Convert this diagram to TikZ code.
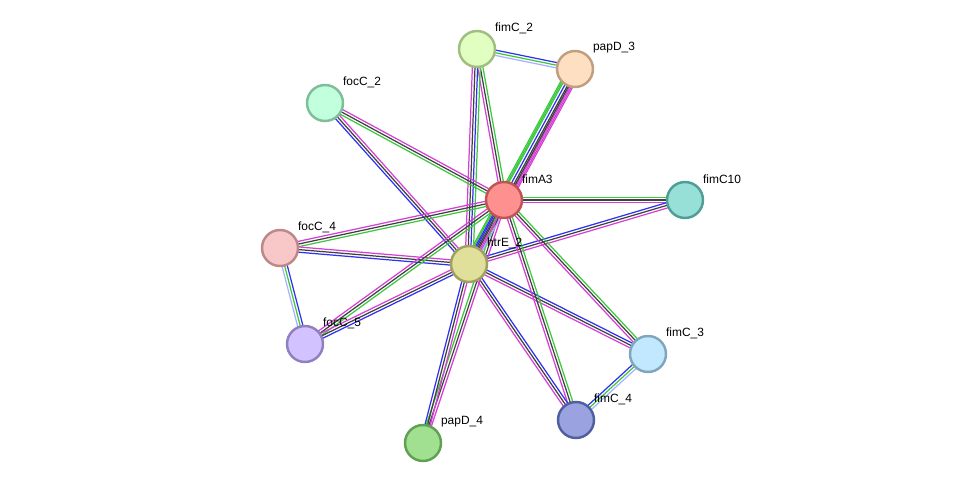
\documentclass[tikz,border=0pt]{standalone}
\usepackage{fontspec}
\setmainfont{Liberation Sans}
\usetikzlibrary{calc,backgrounds}

\definecolor{lnkgreen}{HTML}{3CC83C}
\definecolor{lnkblue}{HTML}{3030F0}
\definecolor{lnkmag}{HTML}{D53FD5}
\definecolor{lnkblack}{HTML}{404040}
\definecolor{lnklight}{HTML}{A8B0FF}

\definecolor{fimCtwoF}{HTML}{E0FFC0}   \definecolor{fimCtwoD}{HTML}{A0BE80}
\definecolor{papDthreeF}{HTML}{FFDFC2} \definecolor{papDthreeD}{HTML}{BEA080}
\definecolor{focCtwoF}{HTML}{C2FFDC}   \definecolor{focCtwoD}{HTML}{80BE9A}
\definecolor{fimAF}{HTML}{FF9090}      \definecolor{fimAD}{HTML}{BE5555}
\definecolor{fimCtenF}{HTML}{96E0D8}   \definecolor{fimCtenD}{HTML}{509C96}
\definecolor{focCfourF}{HTML}{F8C8C8}  \definecolor{focCfourD}{HTML}{BE8888}
\definecolor{htrEF}{HTML}{E0E09A}      \definecolor{htrED}{HTML}{A0A060}
\definecolor{focCfiveF}{HTML}{D2C2FF}  \definecolor{focCfiveD}{HTML}{9080C0}
\definecolor{fimCthreeF}{HTML}{C2E8FF} \definecolor{fimCthreeD}{HTML}{80A6BE}
\definecolor{fimCfourF}{HTML}{9AA2E0}  \definecolor{fimCfourD}{HTML}{50609E}
\definecolor{papDfourF}{HTML}{A0E090}  \definecolor{papDfourD}{HTML}{60A052}

% one bundle of parallel lines between two proteins
\newcommand{\bundle}[3]{%
  \foreach \c/\o in {#3} {
    \draw[edge,\c] ($(#1.center)!\o*1.5pt!90:(#2.center)$) -- ($(#2.center)!\o*1.5pt!-90:(#1.center)$);
  }}

\begin{document}
\begin{tikzpicture}[x=0.02cm,y=-0.02cm,
  edge/.style={line width=0.7pt},
  protein/.style 2 args={circle,minimum size=0.72cm,inner sep=0pt,line width=1.4pt,fill=#1,draw=#2},
  tag/.style={xshift=-0.03cm,yshift=0.42cm,inner sep=0pt,font=\fontsize{6.8}{8}\selectfont}]

  \useasboundingbox (0,0) rectangle (975,489);

  \node[protein={fimCtwoF}{fimCtwoD},label={[tag]0:fimC\_2}] (fimC2) at (477,49) {};
  \node[protein={papDthreeF}{papDthreeD},label={[tag]0:papD\_3}] (papD3) at (575,69) {};
  \node[protein={focCtwoF}{focCtwoD},label={[tag]0:focC\_2}] (focC2) at (325,103) {};
  \node[protein={fimAF}{fimAD},label={[tag]0:fimA3}] (fimA3) at (504,200) {};
  \node[protein={fimCtenF}{fimCtenD},label={[tag]0:fimC10}] (fimC10) at (685,200) {};
  \node[protein={focCfourF}{focCfourD},label={[tag]0:focC\_4}] (focC4) at (280,248) {};
  \node[protein={htrEF}{htrED},label={[tag]0:htrE\_2}] (htrE2) at (469,264) {};
  \node[protein={focCfiveF}{focCfiveD},label={[tag]0:focC\_5}] (focC5) at (305,344) {};
  \node[protein={fimCthreeF}{fimCthreeD},label={[tag]0:fimC\_3}] (fimC3) at (648,354) {};
  \node[protein={fimCfourF}{fimCfourD},label={[tag]0:fimC\_4}] (fimC4) at (576,420) {};
  \node[protein={papDfourF}{papDfourD},label={[tag]0:papD\_4}] (papD4) at (423,443) {};

  \begin{scope}[on background layer]
    \bundle{fimC2}{papD3}{lnklight/-1,lnkgreen/0,lnkblue/1}
    \bundle{fimC2}{fimA3}{lnkmag/-1,lnkblack/0,lnkgreen/1}
    \bundle{fimC2}{htrE2}{lnkmag/-1.5,lnkblack/-0.5,lnkblue/0.5,lnkgreen/1.5}
    \bundle{papD3}{htrE2}{lnkgreen/-1.5,lnkblue/-0.5,lnkblack/0.5,lnkmag/1.5}
    \bundle{papD3}{fimA3}{lnkgreen/-2.5,lnkgreen/-2,lnkblack/1,lnkmag/2,lnkmag/2.5}
    \bundle{focC2}{fimA3}{lnkgreen/-1,lnkblack/0,lnkmag/1}
    \bundle{focC2}{htrE2}{lnkblue/-1,lnkblack/0,lnkmag/1}
    \bundle{fimA3}{fimC10}{lnkmag/-1,lnkblack/0,lnkgreen/1}
    \bundle{htrE2}{fimC10}{lnkmag/-1,lnkblack/0,lnkblue/1}
    \bundle{focC4}{fimA3}{lnkgreen/-1,lnkblack/0,lnkmag/1}
    \bundle{focC4}{htrE2}{lnkblue/-1,lnkblack/0,lnkmag/1}
    \bundle{focC4}{focC5}{lnklight/-1,lnkgreen/0,lnkblue/1}
    \bundle{focC5}{fimA3}{lnkgreen/-1,lnkblack/0,lnkmag/1}
    \bundle{focC5}{htrE2}{lnkblue/-1,lnkblack/0,lnkmag/1}
    \bundle{fimA3}{fimC3}{lnkmag/-1,lnkblack/0,lnkgreen/1}
    \bundle{htrE2}{fimC3}{lnkmag/-1,lnkblack/0,lnkblue/1}
    \bundle{fimA3}{fimC4}{lnkmag/-1,lnkblack/0,lnkgreen/1}
    \bundle{htrE2}{fimC4}{lnkmag/-1,lnkblack/0,lnkblue/1}
    \bundle{fimC3}{fimC4}{lnkblue/-1,lnkgreen/0,lnklight/1}
    \bundle{fimA3}{papD4}{lnkgreen/-1,lnkblack/0,lnkmag/1}
    \bundle{htrE2}{papD4}{lnkblue/-1,lnkblack/0,lnkmag/1}
    \bundle{fimA3}{htrE2}{lnkgreen/-2,lnkblue/-1,lnkblack/0,lnkmag/1,lnklight/2}
  \end{scope}
\end{tikzpicture}
\end{document}
